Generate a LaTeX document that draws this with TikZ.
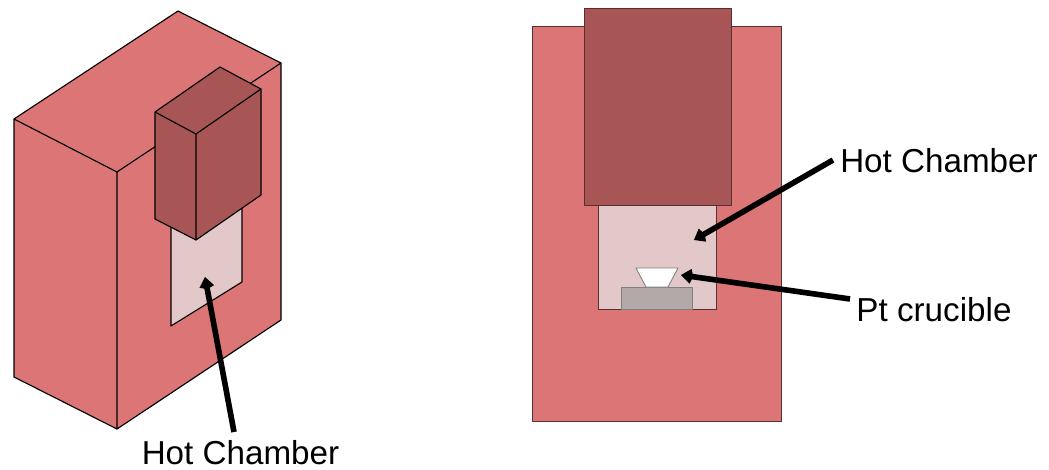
\documentclass[tikz,border=0pt]{standalone}
\usepackage{fontspec}
\setmainfont{Liberation Sans}
\usetikzlibrary{arrows.meta}
\definecolor{wallred}{HTML}{DC7676}
\definecolor{darkred}{HTML}{A85555}
\definecolor{paleroom}{HTML}{E3C8C9}
\definecolor{standgray}{HTML}{B3A9A9}
\tikzset{
  x=0.02cm,y=-0.02cm,
  edgeb/.style={draw=black,line width=0.65pt,line join=round},
  edgeg/.style={draw=black!60!wallred,line width=0.5pt,line join=round},
  pointer/.style={line width=3.2pt,-{Kite[length=7pt,width=8.5pt,inset=1.5pt]}},
  lbl/.style={font=\fontsize{18.9}{22}\selectfont,inner sep=0pt,anchor=center}
}
\begin{document}
\begin{tikzpicture}
\useasboundingbox (0,0) rectangle (1049,470);
% left block
\path[edgeb,fill=wallred] (14,119) -- (178,11) -- (281,63) -- (281,320) -- (117,429) -- (14,377) -- cycle;
\draw[edgeb] (14,119) -- (117,172) -- (117,429);
\draw[edgeb] (117,172) -- (281,63);
% left chamber
\path[edgeb,fill=paleroom] (171,225) -- (242,205) -- (242,282) -- (171,326) -- cycle;
% left top box
\path[edgeb,fill=darkred] (155,112) -- (220,67) -- (261,89) -- (261,195) -- (196,240) -- (155,219) -- cycle;
\draw[edgeb] (155,112) -- (196,134) -- (196,240);
\draw[edgeb] (196,134) -- (261,89);
% right view
\path[edgeg,fill=wallred] (532,26) rectangle (781,421);
\path[edgeg,fill=darkred] (584,8) rectangle (731,205);
\path[edgeg,fill=paleroom] (598,205) rectangle (716,309);
\path[draw=gray,line width=0.5pt,line join=round,fill=standgray] (621,287) rectangle (692,309);
\path[draw=gray,line width=0.5pt,line join=round,fill=white] (636,268) -- (678,268) -- (668,287) -- (646,287) -- cycle;
% labels
\node[lbl] (hcleft) at (240.5,453) {Hot Chamber};
\node[lbl] (hcright) at (939,161) {Hot Chamber};
\node[lbl] (pt) at (934,310) {Pt crucible};
\coordinate (t1) at (205,277);
\coordinate (t2) at (694,240);
\coordinate (t3) at (681,275);
\coordinate (s1) at (234,432);
\coordinate (s2) at (833,160);
\coordinate (s3) at (850,299);
\draw[pointer] (s1) -- (t1);
\draw[pointer] (s2) -- (t2);
\draw[pointer] (s3) -- (t3);
\end{tikzpicture}
\end{document}
